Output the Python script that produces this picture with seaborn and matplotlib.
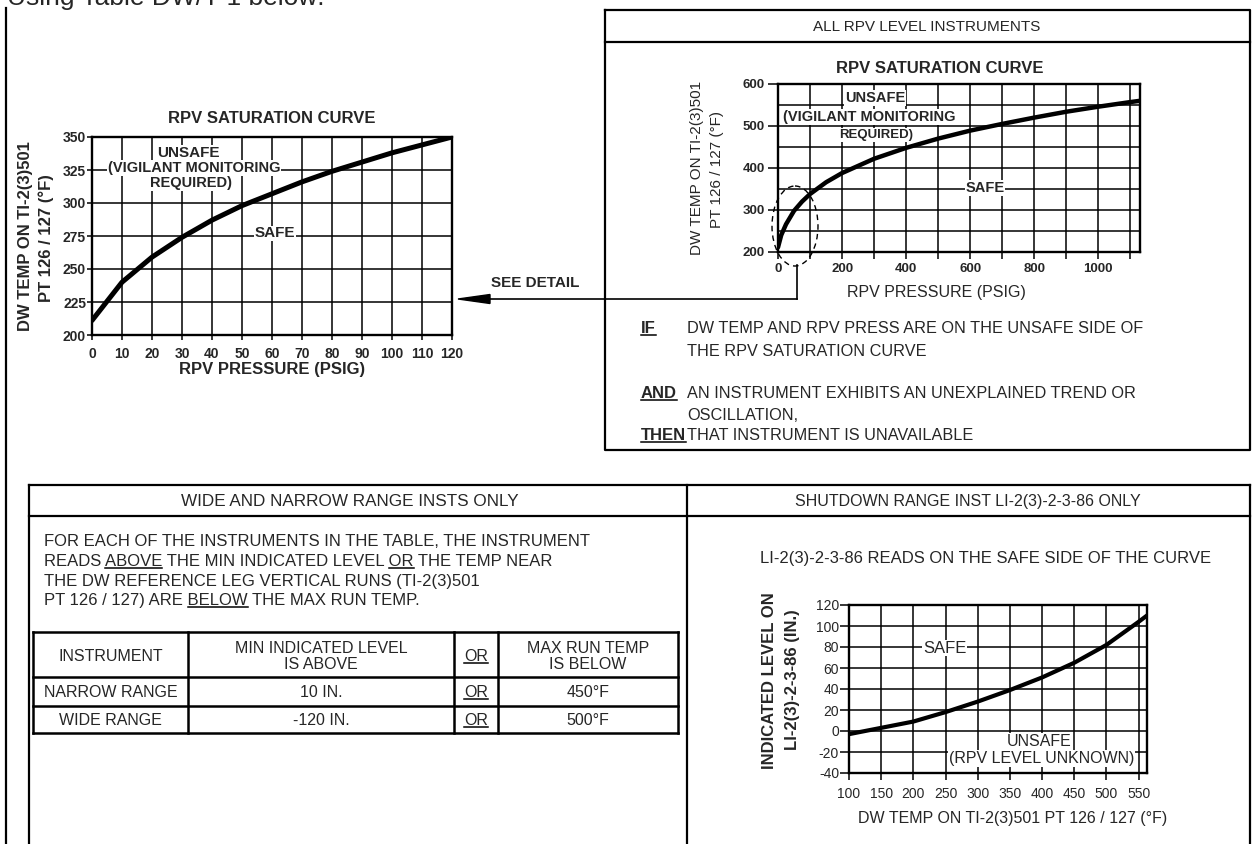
import matplotlib
matplotlib.use("Agg")
import matplotlib.pyplot as plt
import pandas as pd
import seaborn as sns
from matplotlib.patches import Ellipse, Polygon
from matplotlib.ticker import MultipleLocator

# values
detail_psig = [0, 10, 20, 30, 40, 50, 60, 70, 80, 90, 100, 110, 120]
detail_temp = [211, 240, 259, 274, 287, 298, 307, 316, 324, 331, 338, 344, 350]

sat_psig = [0, 10, 25, 50, 75, 100, 150, 200, 300, 400, 500, 600, 700, 800, 900, 1000, 1100, 1130]
sat_temp = [211, 240, 266, 298, 320, 338, 366, 388, 422, 448, 470, 489, 505, 520, 534, 546, 557, 560]

sd_temp = [100, 150, 200, 250, 300, 350, 400, 450, 500, 550, 563]
sd_level = [-3, 3, 9, 18, 28, 39, 51, 65, 82, 104, 110]

table_head = [["INSTRUMENT"], ["MIN INDICATED LEVEL", "IS ABOVE"], ["OR"], ["MAX RUN TEMP", "IS BELOW"]]
instruments = ["NARROW RANGE", "WIDE RANGE"]
min_levels = ["10 IN.", "-120 IN."]
max_temps = ["450°F", "500°F"]

sns.set_style("ticks")
plt.rcParams["font.family"] = ["Liberation Sans", "DejaVu Sans"]
plt.rcParams["axes.unicode_minus"] = False

W, H = 1253, 844
fig = plt.figure(figsize=(W / 100, H / 100), dpi=100)
fig.patch.set_facecolor("white")


def px_axes(x0, y0, x1, y1):
    return fig.add_axes([x0 / W, 1 - y1 / H, (x1 - x0) / W, (y1 - y0) / H])


canvas = fig.add_axes([0, 0, 1, 1])
canvas.set_xlim(0, W)
canvas.set_ylim(H, 0)
canvas.axis("off")
canvas.set_zorder(10)
renderer = fig.canvas.get_renderer()


def seg(xs, ys, lw=1.5):
    canvas.plot(xs, ys, color="black", lw=lw, solid_capstyle="projecting")


def put(x, yc, s, size=12, weight="normal", ha="center", rot=0):
    if rot:
        return canvas.text(x, yc, s, fontsize=size, fontweight=weight,
                           ha="center", va="center", rotation=rot)
    base = yc + 0.716 * size * 100 / 72 / 2
    return canvas.text(x, base, s, fontsize=size, fontweight=weight, ha=ha, va="baseline")


def text_width(s, size, weight="normal"):
    t = canvas.text(0, 0, s, fontsize=size, fontweight=weight)
    w = t.get_window_extent(renderer).width
    t.remove()
    return w


def put_ul(x, yc, s, words, size=12, weight="normal", ha="left"):
    full = text_width(s, size, weight)
    if ha == "center":
        x = x - full / 2
    put(x, yc, s, size, weight, ha="left")
    base = yc + 0.716 * size * 100 / 72 / 2
    for w in words:
        i = s.index(w)
        end = text_width(s[:i + len(w)], size, weight)
        start = end - text_width(w, size, weight)
        seg([x + start, x + end], [base + 2, base + 2], lw=1.1)


def style(ax, xlim, ylim, xstep, ystep, xgrid, ygrid, size, weight, xlen, ylen, xpad, ypad):
    ax.set(xlim=xlim, ylim=ylim, xlabel="", ylabel="")
    ax.xaxis.set_major_locator(MultipleLocator(xstep))
    ax.yaxis.set_major_locator(MultipleLocator(ystep))
    ax.xaxis.set_minor_locator(MultipleLocator(xgrid))
    ax.yaxis.set_minor_locator(MultipleLocator(ygrid))
    ax.grid(True, which="both", color="black", linewidth=1.1)
    for sp in ax.spines.values():
        sp.set_visible(True)
        sp.set_linewidth(1.7)
        sp.set_color("black")
    ax.tick_params(which="both", direction="out", width=1.1, color="black", labelsize=size)
    ax.tick_params(axis="x", which="both", length=xlen * 0.72, pad=xpad * 0.72)
    ax.tick_params(axis="y", which="major", length=ylen * 0.72, pad=ypad * 0.72)
    ax.tick_params(axis="y", which="minor", length=0)
    plt.setp(ax.get_xticklabels() + ax.get_yticklabels(), fontweight=weight)


def label_box(ax, x, y, s, size, weight="bold"):
    ax.text(x, y, s, fontsize=size, fontweight=weight, ha="center", va="center",
            bbox=dict(facecolor="white", edgecolor="none", pad=0.6), zorder=4)


# page text and frames
canvas.text(7, 5, "Using Table DW/T-1 below:", fontsize=19, ha="left", va="baseline")
seg([6, 6], [8, H], lw=1.6)

# ---- left: detail saturation curve ----
ax1 = px_axes(92, 137, 452, 335)
sns.lineplot(data=pd.DataFrame({"psig": detail_psig, "temp": detail_temp}),
             x="psig", y="temp", ax=ax1, color="black", linewidth=3.6)
style(ax1, (0, 120), (200, 350), 10, 25, 10, 25, 10, "bold", 5, 5, 7, 1)
label_box(ax1, 32, 338, "UNSAFE", 11)
label_box(ax1, 34, 326.5, "(VIGILANT MONITORING", 10.5)
label_box(ax1, 33, 315, "REQUIRED)", 10.5)
label_box(ax1, 61, 277, "SAFE", 11)
put(272, 117, "RPV SATURATION CURVE", 12, "bold")
put(272, 368, "RPV PRESSURE (PSIG)", 12, "bold")
put(26, 236, "DW TEMP ON TI-2(3)501", 12, "bold", rot=90)
put(46, 238, "PT 126 / 127 (°F)", 12, "bold", rot=90)

# see detail arrow
put(535, 282, "SEE DETAIL", 11, "bold")
seg([797, 797], [265, 299], lw=1.2)
seg([797, 488], [299, 299], lw=1.2)
canvas.add_patch(Polygon([(458, 299), (490, 294.5), (490, 303.5)], closed=True,
                         facecolor="black", edgecolor="black"))
canvas.add_patch(Ellipse((795, 226), 46, 80, fill=False, edgecolor="black",
                         linestyle=(0, (4, 3)), lw=1.0))

# ---- right box: all RPV level instruments ----
seg([605, 1250, 1250, 605, 605], [10, 10, 450, 450, 10], lw=1.6)
seg([605, 1250], [42, 42], lw=1.6)
put(927, 26, "ALL RPV LEVEL INSTRUMENTS", 11)

ax2 = px_axes(778, 84, 1140, 252)
sns.lineplot(data=pd.DataFrame({"psig": sat_psig, "temp": sat_temp}),
             x="psig", y="temp", ax=ax2, color="black", linewidth=3.2)
style(ax2, (0, 1130), (200, 600), 200, 100, 100, 50, 9.5, "bold", 7, 10, 4, 3)
label_box(ax2, 303, 567, "UNSAFE", 10.5)
label_box(ax2, 285, 521, "(VIGILANT MONITORING", 10.5)
label_box(ax2, 305, 479, "REQUIRED)", 9.5)
label_box(ax2, 646, 352, "SAFE", 10.5)
put(940, 67, "RPV SATURATION CURVE", 12, "bold")
put(936, 291, "RPV PRESSURE (PSIG)", 11.5)
put(697, 168, "DW TEMP ON TI-2(3)501", 11, rot=90)
put(717, 170, "PT 126 / 127 (°F)", 11, rot=90)

put_ul(641, 327, "IF", ["IF"], 12, "bold")
put(687, 327, "DW TEMP AND RPV PRESS ARE ON THE UNSAFE SIDE OF", 11.7, ha="left")
put(687, 350, "THE RPV SATURATION CURVE", 11.7, ha="left")
put_ul(641, 392, "AND", ["AND"], 12, "bold")
put(687, 392, "AN INSTRUMENT EXHIBITS AN UNEXPLAINED TREND OR", 11.7, ha="left")
put(687, 414, "OSCILLATION,", 11.7, ha="left")
put_ul(641, 434, "THEN", ["THEN"], 12, "bold")
put(687, 434, "THAT INSTRUMENT IS UNAVAILABLE", 11.7, ha="left")

# ---- bottom boxes ----
seg([29, 29], [485, H], lw=1.6)
seg([29, 1250], [485, 485], lw=1.6)
seg([29, 1250], [516, 516], lw=1.6)
seg([687, 687], [485, H], lw=1.6)
seg([1250, 1250], [485, H], lw=1.6)
put(350, 500, "WIDE AND NARROW RANGE INSTS ONLY", 12.3)
put(968, 500, "SHUTDOWN RANGE INST LI-2(3)-2-3-86 ONLY", 11.5)

put(44, 540, "FOR EACH OF THE INSTRUMENTS IN THE TABLE, THE INSTRUMENT", 12, ha="left")
put_ul(44, 560, "READS ABOVE THE MIN INDICATED LEVEL OR THE TEMP NEAR", ["ABOVE", "OR"], 12)
put(44, 580, "THE DW REFERENCE LEG VERTICAL RUNS (TI-2(3)501", 12, ha="left")
put_ul(44, 599, "PT 126 / 127) ARE BELOW THE MAX RUN TEMP.", ["BELOW"], 12)

# table
col_x = [33, 188, 454, 498, 678]
row_y = [632, 677, 706, 733]
for yy in row_y:
    seg([col_x[0], col_x[-1]], [yy, yy], lw=1.8)
for xx in col_x:
    seg([xx, xx], [row_y[0], row_y[-1]], lw=1.8)
centers = [(col_x[i] + col_x[i + 1]) / 2 for i in range(4)]
for i, lines in enumerate(table_head):
    if len(lines) == 1:
        if lines[0] == "OR":
            put_ul(centers[i], 655, "OR", ["OR"], 11.5, ha="center")
        else:
            put(centers[i], 655, lines[0], 11.5)
    else:
        put(centers[i], 647, lines[0], 11.5)
        put(centers[i], 663, lines[1], 11.5)
for r, yc in enumerate([691.5, 719.5]):
    put(centers[0], yc, instruments[r], 11.5)
    put(centers[1], yc, min_levels[r], 11.5)
    put_ul(centers[2], yc, "OR", ["OR"], 11.5, ha="center")
    put(centers[3], yc, max_temps[r], 11.5)

# shutdown range chart
put(986, 557, "LI-2(3)-2-3-86 READS ON THE SAFE SIDE OF THE CURVE", 12)
ax3 = px_axes(849, 605, 1147, 773)
sns.lineplot(data=pd.DataFrame({"temp": sd_temp, "level": sd_level}),
             x="temp", y="level", ax=ax3, color="black", linewidth=3.0)
style(ax3, (100, 563), (-40, 120), 50, 20, 50, 20, 10, "normal", 7, 9, 7, 1)
label_box(ax3, 249, 79, "SAFE", 12, "normal")
label_box(ax3, 396, -10, "UNSAFE", 11.5, "normal")
label_box(ax3, 399, -26, "(RPV LEVEL UNKNOWN)", 11.5, "normal")
put(1013, 817, "DW TEMP ON TI-2(3)501 PT 126 / 127 (°F)", 11.5)
put(770, 681, "INDICATED LEVEL ON", 12, "bold", rot=90)
put(792, 680, "LI-2(3)-2-3-86 (IN.)", 12, "bold", rot=90)

fig.savefig("out.png", dpi=100, facecolor="white")
